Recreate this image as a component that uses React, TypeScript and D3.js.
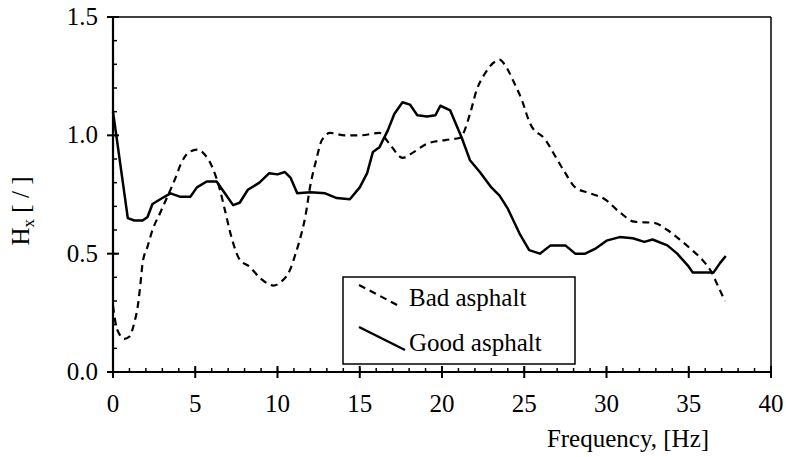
import React from "react";
import * as d3 from "d3";

const goodFreq = [0, 0.9, 1.3, 1.8, 2.1, 2.4, 3.0, 3.5, 4.1, 4.7, 5.1, 5.7, 6.3, 6.8, 7.3, 7.7, 8.2, 8.9, 9.5, 10.0, 10.45, 10.8, 11.2, 12.0, 12.9, 13.6, 14.4, 15.0, 15.45, 15.8, 16.2, 16.7, 17.1, 17.6, 18.05, 18.5, 19.1, 19.6, 19.9, 20.5, 21.2, 21.7, 22.3, 23.0, 23.5, 24.0, 24.75, 25.3, 25.95, 26.6, 27.5, 28.1, 28.7, 29.3, 30.0, 30.8, 31.6, 32.3, 32.8, 33.7, 34.3, 35.0, 35.25, 36.0, 36.5, 36.9, 37.25];
const goodValues = [1.10, 0.65, 0.64, 0.64, 0.655, 0.71, 0.735, 0.755, 0.74, 0.74, 0.78, 0.805, 0.805, 0.755, 0.705, 0.715, 0.77, 0.80, 0.84, 0.835, 0.845, 0.82, 0.755, 0.76, 0.755, 0.735, 0.73, 0.78, 0.84, 0.93, 0.95, 1.02, 1.09, 1.14, 1.13, 1.085, 1.08, 1.085, 1.125, 1.105, 0.99, 0.895, 0.845, 0.78, 0.745, 0.69, 0.58, 0.515, 0.50, 0.535, 0.535, 0.50, 0.50, 0.52, 0.555, 0.57, 0.565, 0.55, 0.56, 0.535, 0.50, 0.445, 0.42, 0.42, 0.42, 0.46, 0.49];

const badFreq = [0, 0.25, 0.7, 1.0, 1.3, 1.5, 1.65, 1.8, 2.1, 2.4, 2.85, 3.3, 3.8, 4.1, 4.55, 5.1, 5.6, 6.1, 6.5, 6.8, 7.2, 7.7, 8.3, 8.9, 9.5, 9.75, 10.2, 10.75, 11.1, 11.4, 11.7, 12.0, 12.35, 12.7, 13.2, 14.1, 15.0, 16.2, 16.8, 17.6, 18.3, 19.1, 20.2, 21.1, 21.7, 22.1, 22.6, 23.1, 23.5, 23.8, 24.4, 24.85, 25.35, 26.3, 26.9, 27.5, 28.1, 29.0, 29.9, 30.8, 31.7, 32.9, 33.7, 34.5, 35.2, 36.0, 36.4, 36.7, 37.2];
const badValues = [0.28, 0.18, 0.14, 0.15, 0.21, 0.275, 0.36, 0.46, 0.53, 0.60, 0.67, 0.74, 0.82, 0.875, 0.925, 0.94, 0.917, 0.855, 0.77, 0.685, 0.57, 0.475, 0.445, 0.40, 0.37, 0.365, 0.38, 0.43, 0.50, 0.57, 0.66, 0.79, 0.895, 0.98, 1.01, 1.00, 1.00, 1.01, 0.965, 0.905, 0.93, 0.965, 0.98, 0.99, 1.09, 1.19, 1.26, 1.305, 1.32, 1.30, 1.22, 1.15, 1.05, 0.98, 0.91, 0.84, 0.78, 0.755, 0.73, 0.675, 0.635, 0.63, 0.60, 0.557, 0.515, 0.46, 0.42, 0.375, 0.30];

const xTicks = [0, 5, 10, 15, 20, 25, 30, 35, 40];
const yTicks = [0.0, 0.5, 1.0, 1.5];
const seriesNames = ["Bad asphalt", "Good asphalt"];

const W = 786, H = 457;
const L = 113, R = 771, T = 17, B = 372;
const FONT = "'Times New Roman', Times, 'Liberation Serif', 'DejaVu Serif', 'Noto Serif', serif";
const ts: React.CSSProperties = { fontFamily: FONT, fontSize: 25, fill: "#000" };

export default function App() {
  const x = d3.scaleLinear().domain([0, 40]).range([L, R]);
  const y = d3.scaleLinear().domain([0, 1.5]).range([B, T]);
  const lineSmooth = d3.line<[number, number]>().x(d => x(d[0])).y(d => y(d[1])).curve(d3.curveMonotoneX);
  const lineLin = d3.line<[number, number]>().x(d => x(d[0])).y(d => y(d[1])).curve(d3.curveLinear);
  const good = goodFreq.map((f, i) => [f, goodValues[i]] as [number, number]);
  const bad = badFreq.map((f, i) => [f, badValues[i]] as [number, number]);
  const xMinor = d3.range(0, 41, 1);
  const yMinor = d3.range(0, 1.5001, 0.1);
  return (
    <svg width={W} height={H} style={{ position: "absolute", left: 0, top: 0 }}>
      <rect x={0} y={0} width={W} height={H} fill="#fff" />
      <line x1={L} x2={R} y1={T} y2={T} stroke="#000" strokeWidth={1.5} />
      <line x1={R} x2={R} y1={T} y2={B} stroke="#000" strokeWidth={1.5} />
      {xMinor.map(v => (
        <line key={"xm" + v} x1={x(v)} x2={x(v)} y1={B} y2={B - 4} stroke="#000" strokeWidth={1.5} />
      ))}
      {yMinor.map(v => (
        <line key={"ym" + v} x1={L} x2={L + 4} y1={y(v)} y2={y(v)} stroke="#000" strokeWidth={1.5} />
      ))}
      {xTicks.map(v => (
        <g key={"xt" + v}>
          <line x1={x(v)} x2={x(v)} y1={B - 6} y2={B + 6} stroke="#000" strokeWidth={2} />
          <text x={x(v)} y={412} textAnchor="middle" style={ts}>{v}</text>
        </g>
      ))}
      {yTicks.map(v => (
        <g key={"yt" + v}>
          <line x1={L - 6} x2={L + 6} y1={y(v)} y2={y(v)} stroke="#000" strokeWidth={2} />
          <text x={98} y={y(v) + 8} textAnchor="end" style={ts}>{v.toFixed(1)}</text>
        </g>
      ))}
      <line x1={L} x2={R} y1={B} y2={B} stroke="#000" strokeWidth={2.2} />
      <line x1={L} x2={L} y1={T} y2={B} stroke="#000" strokeWidth={2.2} />
      <path d={lineSmooth(bad) || ""} fill="none" stroke="#000" strokeWidth={2.2} strokeDasharray="7,5" />
      <path d={lineLin(good) || ""} fill="none" stroke="#000" strokeWidth={2.5} strokeLinejoin="round" />
      <rect x={343} y={277} width={232} height={87} fill="#fff" stroke="#000" strokeWidth={1.5} />
      <line x1={359} y1={285} x2={401} y2={307} stroke="#000" strokeWidth={2.2} strokeDasharray="7,5" />
      <line x1={359} y1={327} x2={405} y2={350} stroke="#000" strokeWidth={2.5} />
      <text x={409} y={306} style={ts}>{seriesNames[0]}</text>
      <text x={409} y={351} style={ts}>{seriesNames[1]}</text>
      <text x={628} y={447} textAnchor="middle" style={ts}>Frequency, [Hz]</text>
      <text transform="translate(29,211) rotate(-90)" textAnchor="middle" style={ts}>
        H<tspan style={{ fontSize: 17 }} dy={5}>x</tspan><tspan dy={-5}> [ / ]</tspan>
      </text>
    </svg>
  );
}
